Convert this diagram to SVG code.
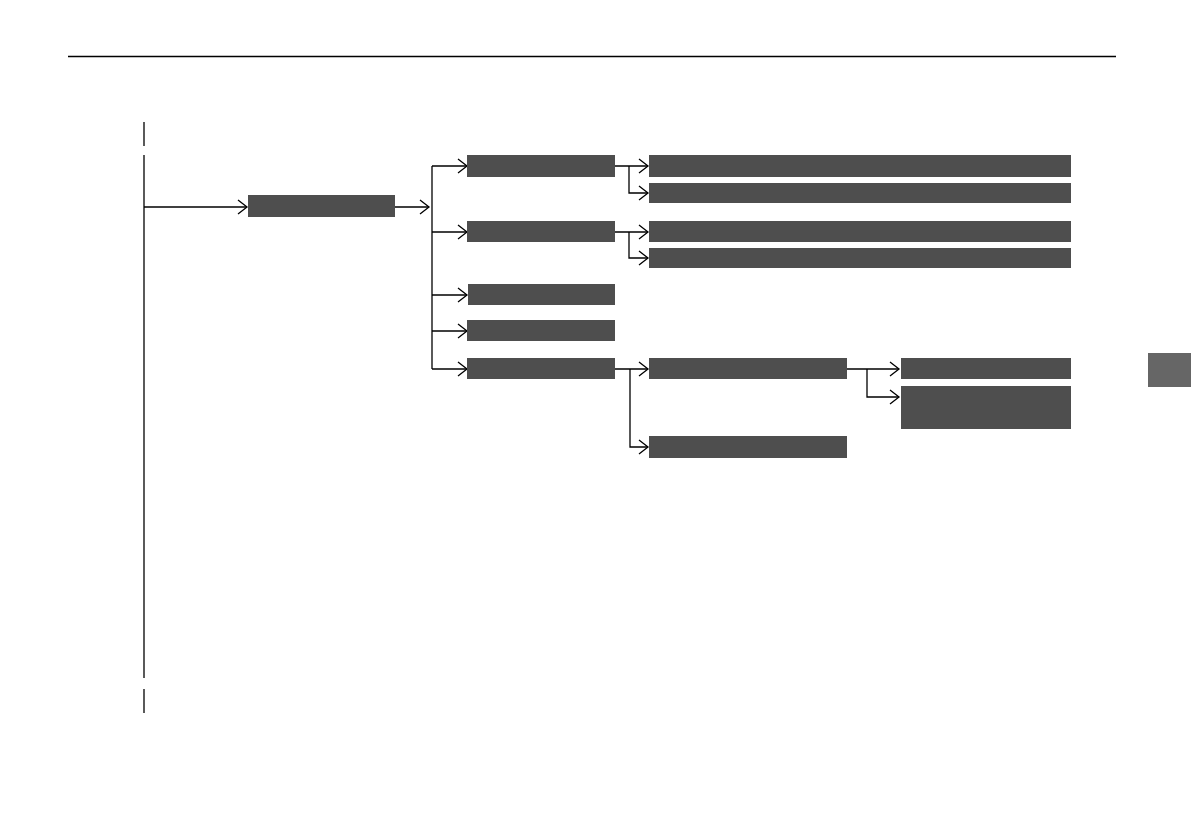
<svg xmlns="http://www.w3.org/2000/svg" width="1191" height="839" viewBox="0 0 1191 839">
<style>
.n{fill:#4e4e4e}
.c{fill:none;stroke:#000;stroke-width:1.3}
</style>
<defs>
<marker id="a" markerUnits="userSpaceOnUse" markerWidth="12" markerHeight="18" refX="10" refY="8" orient="auto">
<path d="M1,1 L10,8 L1,15" fill="none" stroke="#000" stroke-width="1.3"/>
</marker>
</defs>
<rect width="1191" height="839" fill="#fff"/>
<line x1="68" y1="56.5" x2="1116" y2="56.5" stroke="#000" stroke-width="1.4"/>
<rect id="tab" x="1148" y="353" width="43" height="34" fill="#666"/>
<g id="connectors" class="c">
<line x1="144" y1="122" x2="144" y2="146"/>
<line x1="144" y1="155" x2="144" y2="678"/>
<line x1="144" y1="689" x2="144" y2="713"/>
<path d="M144,207 H247" marker-end="url(#a)"/>
<path d="M395,207 H429" marker-end="url(#a)"/>
<line x1="432" y1="166" x2="432" y2="369"/>
<path d="M432,166 H467" marker-end="url(#a)"/>
<path d="M432,232 H467" marker-end="url(#a)"/>
<path d="M432,295 H467" marker-end="url(#a)"/>
<path d="M432,331 H467" marker-end="url(#a)"/>
<path d="M432,369 H467" marker-end="url(#a)"/>
<path d="M615,166 H648" marker-end="url(#a)"/>
<path d="M629,166 V193 H648" marker-end="url(#a)"/>
<path d="M615,232 H648" marker-end="url(#a)"/>
<path d="M629,232 V258 H648" marker-end="url(#a)"/>
<path d="M615,369 H648" marker-end="url(#a)"/>
<path d="M630,369 V447 H648" marker-end="url(#a)"/>
<path d="M847,369 H899" marker-end="url(#a)"/>
<path d="M867,369 V397 H899" marker-end="url(#a)"/>
</g>
<g id="n1"><rect class="n" x="248" y="195" width="147" height="22"/></g>
<g id="n2"><rect class="n" x="467" y="155" width="148" height="22"/></g>
<g id="n3"><rect class="n" x="467" y="221" width="148" height="21"/></g>
<g id="n4"><rect class="n" x="468" y="284" width="147" height="21"/></g>
<g id="n5"><rect class="n" x="467" y="320" width="148" height="21"/></g>
<g id="n6"><rect class="n" x="467" y="358" width="148" height="21"/></g>
<g id="n7"><rect class="n" x="649" y="155" width="422" height="22"/></g>
<g id="n8"><rect class="n" x="649" y="183" width="422" height="20"/></g>
<g id="n9"><rect class="n" x="649" y="221" width="422" height="21"/></g>
<g id="n10"><rect class="n" x="649" y="248" width="422" height="20"/></g>
<g id="n11"><rect class="n" x="649" y="358" width="198" height="21"/></g>
<g id="n12"><rect class="n" x="649" y="436" width="198" height="22"/></g>
<g id="n13"><rect class="n" x="901" y="358" width="170" height="21"/></g>
<g id="n14"><rect class="n" x="901" y="386" width="170" height="43"/></g>
</svg>
